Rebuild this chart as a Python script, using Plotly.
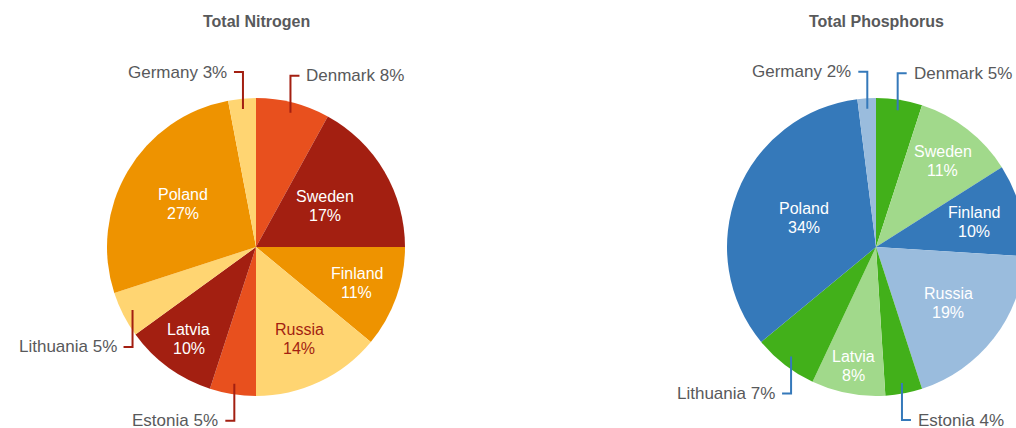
import math
import plotly.graph_objects as go

# ---- data ----
countries = ["Denmark", "Sweden", "Finland", "Russia", "Estonia",
             "Latvia", "Lithuania", "Poland", "Germany"]
nitrogen_pct = [8, 17, 11, 14, 5, 10, 5, 27, 3]
phosphorus_pct = [5, 11, 10, 19, 4, 8, 7, 34, 2]
chart_titles = ["Total Nitrogen", "Total Phosphorus"]
outside_countries = ["Denmark", "Estonia", "Lithuania", "Germany"]

# ---- style ----
W, H = 1030, 428
FONT = "Liberation Sans, Arial, sans-serif"
GRAY = "#58595b"

RED, DRED, ORANGE, YELLOW = "#e8501e", "#a31f11", "#ee9300", "#ffd572"
GREEN, LGREEN, BLUE, LBLUE = "#42b01a", "#a1d98b", "#3579ba", "#9abcdd"

nitrogen_colors = [RED, DRED, ORANGE, YELLOW, RED, DRED, YELLOW, ORANGE, YELLOW]
nitrogen_text = ["white", "white", "white", DRED, "white", "white", "white", "white", "white"]
phosphorus_colors = [GREEN, LGREEN, BLUE, LBLUE, GREEN, LGREEN, GREEN, BLUE, LBLUE]
phosphorus_text = ["white"] * 9
# radial position (fraction of radius) of the inside labels
nitrogen_label_r = {"Sweden": 0.54, "Finland": 0.72, "Russia": 0.685, "Latvia": 0.767, "Poland": 0.57}
phosphorus_label_r = {"Sweden": 0.73, "Finland": 0.68, "Russia": 0.614, "Latvia": 0.815, "Poland": 0.52}

pies = [
    dict(values=nitrogen_pct, colors=nitrogen_colors, textcolors=nitrogen_text,
         label_r=nitrogen_label_r, lead=DRED, cx=256, cy=247, r=149, title=chart_titles[0]),
    dict(values=phosphorus_pct, colors=phosphorus_colors, textcolors=phosphorus_text,
         label_r=phosphorus_label_r, lead=BLUE, cx=876, cy=247, r=149, title=chart_titles[1]),
]


def px(x):
    return x / W


def py(y):
    return 1 - y / H


fig = go.Figure()
shapes, annotations = [], []

for p in pies:
    vals = p["values"]
    fig.add_trace(go.Pie(
        labels=countries, values=vals, sort=False, direction="clockwise", rotation=0,
        marker=dict(colors=p["colors"], line=dict(width=0)),
        textinfo="none",
        hoverinfo="label+percent",
        showlegend=False,
        domain=dict(x=[px(p["cx"] - p["r"]), px(p["cx"] + p["r"])],
                    y=[py(p["cy"] + p["r"]), py(p["cy"] - p["r"])]),
    ))
    annotations.append(dict(
        x=px(p["cx"]), y=py(21), xref="paper", yref="paper", showarrow=False,
        text=f"<b>{p['title']}</b>", font=dict(family=FONT, size=16, color=GRAY),
        xanchor="center", yanchor="middle"))

    total = sum(vals)
    cum = 0
    for c, v, tc in zip(countries, vals, p["textcolors"]):
        mid = (cum + v / 2) / total * 2 * math.pi
        cum += v
        if c not in outside_countries:
            f = p["label_r"][c]
            lx = p["cx"] + f * p["r"] * math.sin(mid)
            ly = p["cy"] - f * p["r"] * math.cos(mid)
            for txt, dy in ((c, -9.5), (f"{v}%", 9.5)):
                annotations.append(dict(
                    x=px(lx), y=py(ly + dy), xref="paper", yref="paper", showarrow=False,
                    text=txt, font=dict(family=FONT, size=16, color=tc),
                    xanchor="center", yanchor="middle", borderpad=0))
            continue
        sx = p["cx"] + 0.93 * p["r"] * math.sin(mid)
        sy = p["cy"] - 0.93 * p["r"] * math.cos(mid)
        vdir = 1 if math.cos(mid) < 0 else -1
        hdir = 1 if math.sin(mid) > 0 else -1
        ey = sy + 37 * vdir
        ex = sx + 9 * hdir
        shapes.append(dict(
            type="path", xref="paper", yref="paper",
            path=f"M {px(sx)},{py(sy)} L {px(sx)},{py(ey)} L {px(ex)},{py(ey)}",
            line=dict(color=p["lead"], width=2)))
        annotations.append(dict(
            x=px(ex + 6 * hdir), y=py(ey), xref="paper", yref="paper", showarrow=False,
            text=f"{c} {v}%", font=dict(family=FONT, size=17, color=GRAY),
            xanchor="left" if hdir > 0 else "right", yanchor="middle", borderpad=0))

fig.update_layout(
    width=W, height=H,
    margin=dict(l=0, r=0, t=0, b=0),
    paper_bgcolor="white", plot_bgcolor="white",
    shapes=shapes, annotations=annotations,
)

fig.write_html(
    "out.html",
    config={"displayModeBar": False},
    post_script="document.documentElement.style.overflow='hidden';"
                "document.body.style.overflow='hidden';document.body.style.margin='0';",
)
